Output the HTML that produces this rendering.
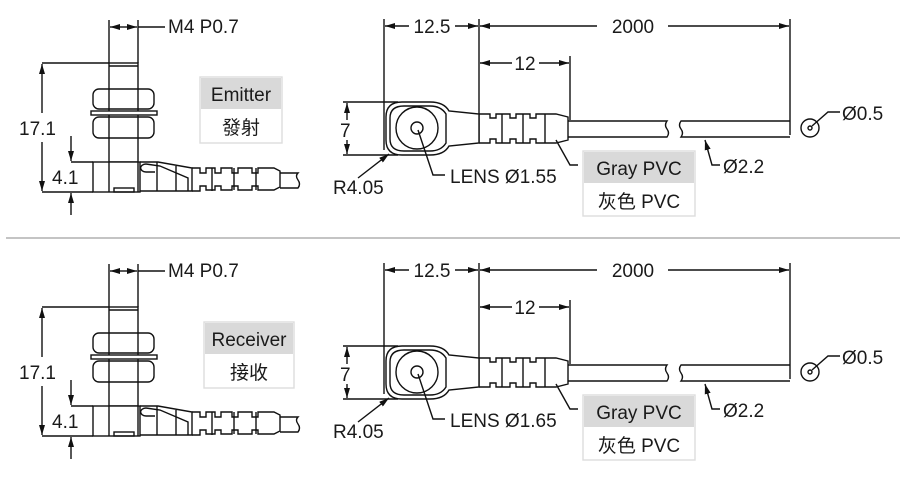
<!DOCTYPE html>
<html><head><meta charset="utf-8"><style>
html,body{margin:0;padding:0;background:#fff;width:900px;height:491px;overflow:hidden}
svg{display:block}
text{font-family:"Liberation Sans","Noto Sans CJK TC",sans-serif;fill:#1a1a1a}
line,path,rect,circle{stroke-width:1.4}
</style></head><body>
<svg width="900" height="491" viewBox="0 0 900 491" xmlns="http://www.w3.org/2000/svg">
<defs>
<marker id="a" viewBox="0 0 10 6" refX="10" refY="3" markerWidth="10" markerHeight="6" orient="auto-start-reverse" markerUnits="userSpaceOnUse"><path d="M0,0 L10,3 L0,6z" fill="#111"/></marker>
<g id="side">
 <line x1="109" y1="20" x2="109" y2="63" stroke="#111"/>
 <line x1="138" y1="20" x2="138" y2="63" stroke="#111"/>
 <line x1="110" y1="27" x2="123" y2="27" stroke="#111" marker-start="url(#a)"/>
 <line x1="123" y1="27" x2="137" y2="27" stroke="#111" marker-end="url(#a)"/>
 <line x1="138" y1="27" x2="165" y2="27" stroke="#111"/>
 <text x="168" y="33" font-size="19">M4 P0.7</text>
 <rect x="109" y="63" width="29" height="99" fill="none" stroke="#111"/>
 <line x1="109" y1="66" x2="138" y2="66" stroke="#111"/>
 <line x1="42" y1="63" x2="109" y2="63" stroke="#111"/>
 <rect x="93" y="89" width="61" height="20" rx="6" fill="#fff" stroke="#111"/>
 <line x1="109" y1="89" x2="109" y2="109" stroke="#111"/><line x1="138" y1="89" x2="138" y2="109" stroke="#111"/>
 <rect x="91" y="111" width="66" height="4" fill="#fff" stroke="#111"/>
 <rect x="93" y="117" width="61" height="21" rx="6" fill="#fff" stroke="#111"/>
 <line x1="109" y1="117" x2="109" y2="138" stroke="#111"/><line x1="138" y1="117" x2="138" y2="138" stroke="#111"/>
 <line x1="42" y1="64" x2="42" y2="113" stroke="#111" marker-start="url(#a)"/>
 <line x1="42" y1="142" x2="42" y2="191" stroke="#111" marker-end="url(#a)"/>
 <text x="19" y="135" font-size="19">17.1</text>
 <line x1="71" y1="136" x2="71" y2="161" stroke="#111" marker-end="url(#a)"/>
 <line x1="71" y1="215" x2="71" y2="193" stroke="#111" marker-end="url(#a)"/>
 <line x1="71" y1="162" x2="93" y2="162" stroke="#111"/>
 <line x1="42" y1="192" x2="93" y2="192" stroke="#111"/>
 <text x="52" y="184" font-size="19">4.1</text>
 <rect x="93" y="162" width="47" height="30" fill="#fff" stroke="#111"/>
 <line x1="109" y1="162" x2="109" y2="192" stroke="#111"/><line x1="138" y1="162" x2="138" y2="192" stroke="#111"/>
 <rect x="114" y="188" width="20" height="4" fill="none" stroke="#111"/>
 <path d="M140,162 L158,162 L192,168 L192,191 L140,191" fill="none" stroke="#111"/>
 <path d="M146,164 L160,166 L188,178 L188,191" fill="none" stroke="#111"/>
 <path d="M146,164 a4,3 0 0 0 0,8 L155,172" fill="none" stroke="#111"/>
 <line x1="157" y1="162" x2="157" y2="191" stroke="#111"/>
 <line x1="176" y1="166" x2="176" y2="191" stroke="#111"/>
 <path d="M192,168 H200 V173 H206 V168 H215 V173 H221 V168 H232 V173 H238 V168 H252 V173 H258 V168 H274 L280,171 V187 L274,190 H258 V186 H252 V190 H238 V186 H232 V190 H221 V186 H215 V190 H206 V186 H200 V191 H192" fill="none" stroke="#111"/>
 <line x1="212" y1="168" x2="212" y2="191" stroke="#111"/>
 <line x1="234" y1="168" x2="234" y2="190" stroke="#111"/>
 <line x1="256" y1="168" x2="256" y2="190" stroke="#111"/>
 <path d="M280,173 H298 q-3,3 0,7 q3,4 0,8 H280" fill="none" stroke="#111"/>
</g>
<g id="top">
 <line x1="384" y1="19" x2="384" y2="150" stroke="#111"/>
 <line x1="479" y1="19" x2="479" y2="143" stroke="#111"/>
 <line x1="790" y1="19" x2="790" y2="135" stroke="#111"/>
 <line x1="409" y1="26" x2="385" y2="26" stroke="#111" marker-end="url(#a)"/>
 <line x1="455" y1="26" x2="478" y2="26" stroke="#111" marker-end="url(#a)"/>
 <text x="432" y="33" font-size="19" text-anchor="middle">12.5</text>
 <line x1="597" y1="26" x2="480" y2="26" stroke="#111" marker-end="url(#a)"/>
 <line x1="668" y1="26" x2="789" y2="26" stroke="#111" marker-end="url(#a)"/>
 <text x="633" y="33" font-size="19" text-anchor="middle">2000</text>
 <line x1="570" y1="56" x2="570" y2="120" stroke="#111"/>
 <line x1="512" y1="63" x2="480" y2="63" stroke="#111" marker-end="url(#a)"/>
 <line x1="539" y1="63" x2="569" y2="63" stroke="#111" marker-end="url(#a)"/>
 <text x="525" y="70" font-size="19" text-anchor="middle">12</text>
 <line x1="343" y1="102" x2="398" y2="102" stroke="#111"/>
 <line x1="343" y1="155" x2="398" y2="155" stroke="#111"/>
 <line x1="347" y1="120" x2="347" y2="103" stroke="#111" marker-end="url(#a)"/>
 <line x1="347" y1="140" x2="347" y2="154" stroke="#111" marker-end="url(#a)"/>
 <text x="340" y="137" font-size="19">7</text>
 <path d="M402,102 H430 Q444,102 449,111 L479,114 V143 L449,146 Q444,155 430,155 H402 Q386,155 386,140 V117 Q386,102 402,102Z" fill="#fff" stroke="#111" stroke-width="1.7"/>
 <path d="M404,106 H430 Q441,106 446,114 V143 Q441,151 430,151 H404 Q390,151 390,139 V118 Q390,106 404,106Z" fill="none" stroke="#111" stroke-width="1"/>
 <circle cx="417" cy="128" r="21" fill="none" stroke="#111"/>
 <circle cx="417" cy="128" r="6" fill="none" stroke="#111"/>
 <path d="M479,114 H490 V118 H496 V114 H510 V118 H516 V114 H530 V118 H536 V114 H556 L568,117 V140 L556,143 H536 V139 H530 V143 H516 V139 H510 V143 H496 V139 H490 V143 H479" fill="none" stroke="#111"/>
 <line x1="502" y1="114" x2="502" y2="143" stroke="#111"/>
 <line x1="523" y1="114" x2="523" y2="143" stroke="#111"/>
 <line x1="545" y1="114" x2="545" y2="143" stroke="#111"/>
 <path d="M568,121 H667 q-3,4 0,8 q3,4 0,8 H568" fill="none" stroke="#111"/>
 <path d="M790,121 H681 q-3,4 0,8 q3,4 0,8 H790" fill="none" stroke="#111"/>
 <circle cx="810" cy="128" r="9" fill="none" stroke="#111"/>
 <circle cx="810" cy="128" r="2" fill="none" stroke="#111"/>
 <path d="M812,126 L828,112 H840" fill="none" stroke="#111"/>
 <text x="842" y="120" font-size="19">Ø0.5</text>
 <path d="M705,140 L712,165 H720" fill="none" stroke="#111" marker-start="url(#a)"/>
 <text x="723" y="173" font-size="19">Ø2.2</text>
 <path d="M418,130 L433,175 H445" fill="none" stroke="#111"/>
 <line x1="358" y1="178" x2="389" y2="154" stroke="#111" marker-end="url(#a)"/>
 <text x="333" y="194" font-size="19">R4.05</text>
 <path d="M556,140 L570,165 H578" fill="none" stroke="#111"/>
 <rect x="583" y="151" width="112" height="65" fill="#fff" stroke="#ddd" stroke-width="2"/>
 <rect x="584" y="152" width="110" height="31" fill="#d9d9d9"/>
 <text x="639" y="175" font-size="19" text-anchor="middle">Gray PVC</text>
 <text x="639" y="208" font-size="19" text-anchor="middle">灰色 PVC</text>
</g>
</defs>

<use href="#side"/>
<use href="#top"/>
<text x="450" y="183" font-size="19">LENS Ø1.55</text>
<rect x="200" y="77" width="82" height="66" fill="#fff" stroke="#ddd" stroke-width="2"/>
<rect x="201" y="78" width="80" height="31" fill="#d9d9d9"/>
<text x="241" y="101" font-size="19" text-anchor="middle">Emitter</text>
<text x="241" y="134" font-size="19" text-anchor="middle">發射</text>

<line x1="6" y1="238" x2="900" y2="238" stroke="#b0b0b0" stroke-width="2"/>

<g transform="translate(0,244)">
<use href="#side"/>
<use href="#top"/>
<text x="450" y="183" font-size="19">LENS Ø1.65</text>
<rect x="204" y="78" width="90" height="66" fill="#fff" stroke="#ddd" stroke-width="2"/>
<rect x="205" y="79" width="88" height="31" fill="#d9d9d9"/>
<text x="249" y="102" font-size="19" text-anchor="middle">Receiver</text>
<text x="249" y="135" font-size="19" text-anchor="middle">接收</text>
</g>
</svg>
</body></html>
